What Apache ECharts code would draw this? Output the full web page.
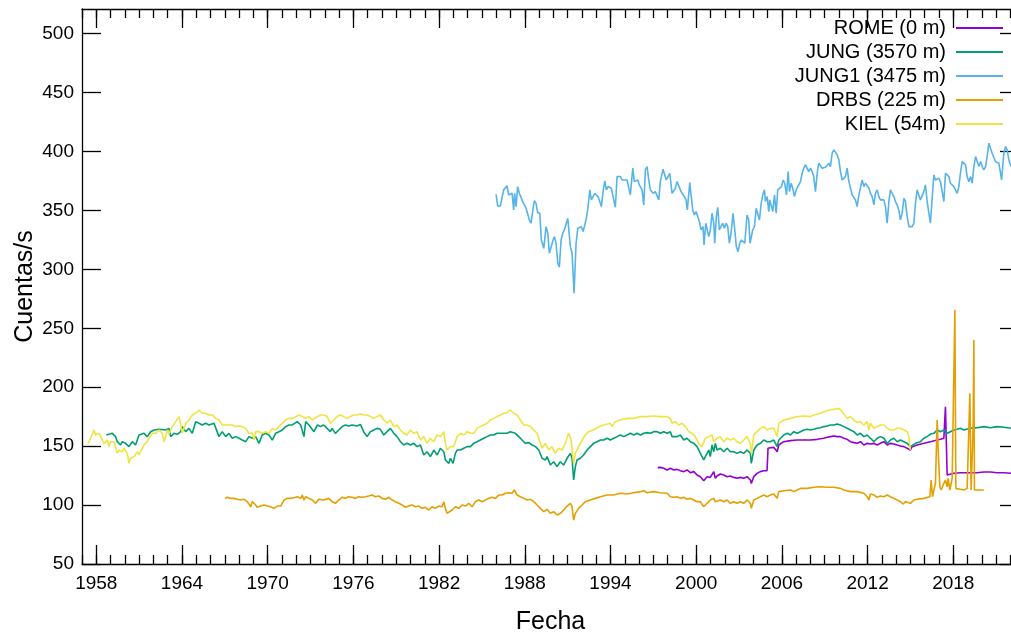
<!DOCTYPE html>
<html><head><meta charset="utf-8">
<script src="https://cdn.jsdelivr.net/npm/echarts@6/dist/echarts.min.js"></script>
<style>html,body{margin:0;padding:0;background:#fff}#c{width:1011px;height:633px}</style>
</head><body><div id="c"></div>
<script>
// ---- data: [decimal year, counts/s] ----
const ROME = [[1997.31,131.8],[1997.49,132.0],[1997.73,131.2],[1997.96,129.8],[1998.19,131.2],[1998.43,129.8],[1998.66,130.3],[1998.89,129.2],[1999.13,128.4],[1999.36,129.8],[1999.59,127.5],[1999.83,128.4],[2000.06,125.5],[2000.29,124.1],[2000.53,120.7],[2000.76,124.1],[2000.99,123.5],[2001.23,128.4],[2001.34,122.7],[2001.46,124.7],[2001.69,126.4],[2001.93,125.5],[2002.16,124.1],[2002.39,124.7],[2002.63,123.5],[2002.86,122.7],[2003.09,123.5],[2003.33,122.7],[2003.56,124.1],[2003.79,121.3],[2003.86,118.4],[2004.03,124.1],[2004.26,126.9],[2004.49,128.4],[2004.73,129.2],[2004.96,129.2],[2005.03,148.2],[2005.19,148.7],[2005.43,149.0],[2005.67,145.3],[2005.78,151.0],[2006.13,153.8],[2006.60,154.7],[2007.07,155.2],[2007.53,155.2],[2008.00,155.2],[2008.47,155.8],[2008.93,156.7],[2009.17,157.5],[2009.40,158.1],[2009.64,158.6],[2009.87,158.1],[2010.10,158.1],[2010.34,156.7],[2010.57,155.8],[2010.80,153.8],[2011.04,153.0],[2011.27,152.4],[2011.50,153.8],[2011.74,151.0],[2011.97,152.4],[2012.20,151.9],[2012.44,152.4],[2012.67,151.0],[2012.90,152.4],[2013.14,153.8],[2013.37,151.0],[2013.60,152.4],[2013.84,151.9],[2014.07,151.0],[2014.30,150.2],[2014.54,149.6],[2014.77,148.2],[2015.00,146.8],[2015.12,149.6],[2015.47,151.0],[2015.94,152.4],[2016.40,153.8],[2016.87,155.2],[2017.10,155.8],[2017.34,156.7],[2017.45,183.5],[2017.52,183.5],[2017.57,125.5],[2018.04,127.0],[2018.50,127.5],[2019.20,127.5],[2019.67,127.5],[2020.14,128.1],[2020.60,128.1],[2021.07,127.5],[2021.54,127.5],[2022.08,127.0]];

const JUNG = [[1958.70,159.5],[1959.12,160.9],[1959.24,162.3],[1959.35,158.1],[1959.47,153.8],[1959.59,155.2],[1959.70,151.0],[1959.82,153.8],[1960.05,152.4],[1960.29,149.6],[1960.52,153.8],[1960.75,151.0],[1960.99,159.5],[1961.11,158.1],[1961.34,160.9],[1961.57,158.1],[1961.81,162.3],[1962.04,163.7],[1962.39,164.3],[1962.86,163.7],[1963.09,165.1],[1963.21,158.1],[1963.44,160.9],[1963.67,160.1],[1963.91,162.3],[1964.02,166.6],[1964.26,162.3],[1964.49,165.1],[1964.72,160.9],[1964.96,170.8],[1965.19,169.4],[1965.42,168.0],[1965.66,169.4],[1965.89,168.0],[1966.24,169.4],[1966.36,169.4],[1966.59,158.1],[1966.82,162.3],[1967.06,158.1],[1967.29,160.9],[1967.52,156.7],[1967.76,158.1],[1967.99,156.7],[1968.22,155.2],[1968.46,153.8],[1968.69,158.1],[1968.92,156.7],[1969.16,158.1],[1969.39,152.4],[1969.62,159.5],[1969.86,160.9],[1970.09,159.5],[1970.32,155.2],[1970.56,160.9],[1970.79,162.3],[1971.02,163.7],[1971.26,166.6],[1971.49,168.0],[1971.72,168.0],[1972.07,170.8],[1972.31,168.0],[1972.54,158.1],[1972.66,170.8],[1972.89,168.0],[1973.24,162.3],[1973.48,168.0],[1973.69,166.6],[1973.92,168.0],[1974.16,165.1],[1974.39,162.3],[1974.51,165.1],[1974.74,160.9],[1974.97,163.7],[1975.21,166.6],[1975.44,168.0],[1975.67,167.1],[1975.91,168.0],[1976.26,167.1],[1976.49,168.5],[1976.72,162.3],[1976.96,158.1],[1977.19,162.3],[1977.43,163.7],[1977.66,165.1],[1977.89,164.3],[1978.13,159.5],[1978.36,162.3],[1978.59,165.1],[1978.83,160.9],[1979.06,158.1],[1979.29,153.8],[1979.53,151.0],[1979.76,152.4],[1979.99,151.0],[1980.23,152.4],[1980.46,149.6],[1980.69,151.0],[1980.93,142.5],[1981.16,145.3],[1981.39,141.1],[1981.63,146.7],[1981.86,142.5],[1982.09,148.2],[1982.33,145.3],[1982.44,138.3],[1982.56,136.8],[1982.68,135.4],[1982.79,139.7],[1982.98,135.4],[1983.14,143.9],[1983.26,146.7],[1983.49,146.7],[1983.73,148.2],[1983.96,149.6],[1984.19,149.6],[1984.43,152.4],[1984.66,153.8],[1984.89,155.2],[1985.13,156.7],[1985.36,158.1],[1985.59,159.5],[1985.83,159.5],[1986.06,160.9],[1986.29,160.9],[1986.53,160.9],[1986.76,160.9],[1986.99,162.3],[1987.11,163.7],[1987.34,160.9],[1987.58,158.1],[1987.81,155.2],[1988.04,152.4],[1988.28,153.0],[1988.51,151.0],[1988.75,149.6],[1988.98,146.7],[1989.21,139.7],[1989.45,138.3],[1989.56,141.1],[1989.79,134.0],[1990.02,136.8],[1990.26,132.6],[1990.49,136.8],[1990.72,134.0],[1990.96,139.7],[1991.19,143.9],[1991.31,139.7],[1991.42,121.3],[1991.54,132.6],[1991.66,138.3],[1991.89,139.7],[1992.12,142.5],[1992.36,146.7],[1992.59,149.6],[1992.82,152.4],[1993.06,153.8],[1993.29,155.2],[1993.53,155.2],[1993.76,156.7],[1993.99,155.2],[1994.23,156.7],[1994.46,158.1],[1994.69,159.5],[1994.93,158.1],[1995.16,159.5],[1995.39,160.9],[1995.63,159.5],[1995.86,160.9],[1996.09,159.5],[1996.33,160.9],[1996.56,161.5],[1996.79,160.9],[1997.03,162.3],[1997.26,162.3],[1997.49,160.9],[1997.73,162.3],[1997.96,160.9],[1998.19,162.3],[1998.31,158.1],[1998.43,159.5],[1998.66,158.1],[1998.89,159.5],[1999.13,155.2],[1999.36,156.7],[1999.59,153.8],[1999.83,152.4],[2000.06,149.6],[2000.29,143.9],[2000.53,138.3],[2000.64,141.1],[2000.76,143.9],[2000.88,146.7],[2000.99,141.1],[2001.11,151.0],[2001.23,145.3],[2001.34,152.4],[2001.46,146.7],[2001.69,148.2],[2001.93,145.3],[2002.16,148.2],[2002.39,145.3],[2002.63,145.3],[2002.86,143.9],[2003.09,145.3],[2003.33,143.9],[2003.56,146.7],[2003.79,143.9],[2003.86,135.4],[2004.03,146.7],[2004.26,151.0],[2004.49,152.4],[2004.73,155.2],[2004.96,153.8],[2005.19,153.8],[2005.43,155.2],[2005.67,149.6],[2005.78,155.2],[2006.13,159.5],[2006.37,160.9],[2006.60,159.5],[2006.83,162.3],[2007.07,160.9],[2007.30,162.3],[2007.53,163.7],[2007.77,164.3],[2008.00,163.7],[2008.23,164.3],[2008.47,165.2],[2008.70,165.7],[2008.93,166.6],[2009.17,167.1],[2009.40,168.0],[2009.64,168.0],[2009.87,168.8],[2010.10,168.0],[2010.34,166.6],[2010.57,165.2],[2010.80,163.7],[2011.04,162.3],[2011.27,159.5],[2011.50,160.9],[2011.74,158.1],[2011.97,159.5],[2012.20,156.7],[2012.44,153.8],[2012.67,156.7],[2012.90,158.1],[2013.14,156.7],[2013.37,152.4],[2013.60,155.2],[2013.84,156.7],[2014.07,153.8],[2014.30,155.2],[2014.54,153.8],[2014.77,152.4],[2015.00,149.6],[2015.12,151.0],[2015.35,152.4],[2015.70,153.8],[2015.94,156.7],[2016.17,158.1],[2016.40,160.3],[2016.64,160.9],[2016.87,163.7],[2017.10,162.3],[2017.34,163.7],[2017.57,160.9],[2017.80,162.3],[2018.04,163.7],[2018.27,164.3],[2018.50,165.2],[2018.74,163.7],[2019.20,165.2],[2019.67,165.7],[2020.14,166.6],[2020.60,165.7],[2021.07,166.6],[2021.54,166.0],[2022.08,165.2]];

const JUNG1 = [[1985.99,363.8],[1986.10,353.9],[1986.29,353.9],[1986.41,354.7],[1986.52,367.5],[1986.64,368.9],[1986.76,370.9],[1986.87,363.2],[1986.99,364.6],[1987.11,364.6],[1987.22,350.5],[1987.29,364.6],[1987.39,353.3],[1987.50,370.3],[1987.62,364.6],[1987.74,366.0],[1987.85,357.6],[1987.97,356.1],[1988.09,351.9],[1988.20,353.3],[1988.32,342.0],[1988.44,339.2],[1988.55,349.1],[1988.67,358.4],[1988.79,356.1],[1988.90,348.2],[1989.05,347.7],[1989.16,325.0],[1989.33,317.9],[1989.49,336.3],[1989.61,330.7],[1989.72,313.7],[1989.86,312.3],[1989.98,325.0],[1990.07,327.8],[1990.19,322.2],[1990.31,305.2],[1990.42,301.8],[1990.54,325.0],[1990.66,330.7],[1990.77,333.5],[1990.89,332.1],[1991.01,343.4],[1991.12,344.8],[1991.19,319.3],[1991.31,313.7],[1991.45,279.7],[1991.59,322.2],[1991.71,334.9],[1991.85,335.8],[1991.96,336.3],[1992.08,332.1],[1992.20,337.7],[1992.31,343.4],[1992.43,353.3],[1992.55,367.5],[1992.66,359.0],[1992.78,357.6],[1992.90,364.6],[1993.01,366.0],[1993.13,361.8],[1993.25,361.8],[1993.36,353.3],[1993.48,366.0],[1993.60,375.1],[1993.71,367.5],[1993.83,370.3],[1993.95,368.9],[1994.06,368.9],[1994.18,361.8],[1994.34,352.7],[1994.46,378.8],[1994.69,378.8],[1994.81,375.9],[1994.93,377.4],[1995.16,375.9],[1995.39,363.2],[1995.56,385.9],[1995.67,374.5],[1995.79,375.9],[1995.91,375.9],[1996.02,371.7],[1996.21,367.5],[1996.33,354.7],[1996.44,384.4],[1996.56,387.3],[1996.68,375.9],[1996.79,367.5],[1996.98,364.6],[1997.14,366.0],[1997.26,364.6],[1997.38,359.0],[1997.49,374.5],[1997.68,385.0],[1997.80,380.2],[1997.91,375.9],[1998.03,378.8],[1998.15,381.6],[1998.31,364.6],[1998.43,364.1],[1998.54,368.9],[1998.66,374.5],[1998.78,374.5],[1998.89,367.5],[1999.01,364.6],[1999.17,361.8],[1999.29,359.0],[1999.38,350.5],[1999.55,373.7],[1999.64,363.2],[1999.76,350.5],[1999.87,346.2],[1999.99,349.1],[2000.11,344.8],[2000.22,340.6],[2000.34,333.5],[2000.48,336.3],[2000.55,320.8],[2000.67,339.2],[2000.76,340.6],[2000.88,327.8],[2000.99,333.5],[2001.11,347.7],[2001.23,339.2],[2001.30,322.2],[2001.41,344.8],[2001.51,352.7],[2001.62,333.5],[2001.74,333.5],[2001.86,339.2],[2001.97,334.9],[2002.09,339.2],[2002.21,336.3],[2002.32,322.2],[2002.44,330.7],[2002.58,347.7],[2002.70,333.5],[2002.81,319.4],[2002.93,315.1],[2003.05,322.2],[2003.17,325.0],[2003.28,325.0],[2003.40,322.2],[2003.56,346.2],[2003.68,342.0],[2003.77,322.2],[2003.96,333.5],[2004.08,336.3],[2004.20,351.9],[2004.31,350.5],[2004.43,342.0],[2004.55,356.1],[2004.66,363.2],[2004.78,367.5],[2004.85,357.6],[2004.97,361.8],[2005.08,349.1],[2005.15,359.0],[2005.27,357.6],[2005.36,349.1],[2005.48,363.2],[2005.60,347.7],[2005.71,367.5],[2005.85,368.9],[2005.97,370.3],[2006.09,375.9],[2006.20,373.1],[2006.32,363.2],[2006.44,383.0],[2006.53,366.0],[2006.65,373.1],[2006.76,368.9],[2006.88,361.8],[2007.00,367.5],[2007.11,370.3],[2007.30,374.5],[2007.42,381.6],[2007.53,385.9],[2007.65,388.7],[2007.77,388.7],[2007.88,383.0],[2008.00,385.9],[2008.12,383.0],[2008.23,378.8],[2008.35,366.0],[2008.47,381.6],[2008.58,390.1],[2008.70,390.1],[2008.82,385.9],[2008.94,385.9],[2009.05,386.7],[2009.17,386.7],[2009.29,390.1],[2009.40,387.3],[2009.52,398.6],[2009.64,401.4],[2009.75,400.0],[2009.87,397.2],[2009.99,392.9],[2010.10,383.0],[2010.22,375.9],[2010.34,374.5],[2010.45,378.8],[2010.57,385.9],[2010.69,374.5],[2010.80,373.1],[2010.92,363.2],[2011.04,364.6],[2011.15,359.0],[2011.27,353.3],[2011.39,363.2],[2011.50,361.8],[2011.62,375.9],[2011.74,370.3],[2011.85,373.1],[2011.97,371.7],[2012.09,368.9],[2012.20,364.6],[2012.32,361.8],[2012.44,354.7],[2012.55,364.6],[2012.67,367.5],[2012.79,361.8],[2012.90,359.0],[2013.02,357.6],[2013.14,359.0],[2013.25,353.3],[2013.37,339.2],[2013.49,357.6],[2013.60,367.5],[2013.72,364.6],[2013.84,361.8],[2013.95,357.6],[2014.07,354.7],[2014.19,350.5],[2014.30,342.0],[2014.42,347.7],[2014.54,360.4],[2014.65,357.6],[2014.77,344.8],[2014.89,336.3],[2015.00,337.7],[2015.12,336.3],[2015.24,339.2],[2015.35,356.1],[2015.47,367.5],[2015.59,368.9],[2015.70,359.0],[2015.82,357.6],[2015.94,366.0],[2016.05,371.7],[2016.17,357.6],[2016.29,347.7],[2016.40,339.2],[2016.52,360.4],[2016.64,380.2],[2016.75,375.9],[2016.87,375.9],[2016.99,377.4],[2017.10,374.5],[2017.22,375.9],[2017.34,357.6],[2017.45,381.6],[2017.57,382.2],[2017.69,378.8],[2017.80,373.1],[2017.92,373.1],[2018.04,370.3],[2018.15,371.7],[2018.27,364.6],[2018.39,370.3],[2018.50,381.6],[2018.62,391.5],[2018.74,391.5],[2018.86,388.7],[2018.97,378.8],[2019.09,374.5],[2019.21,378.8],[2019.32,373.1],[2019.44,387.3],[2019.56,395.8],[2019.67,397.2],[2019.79,387.3],[2019.91,391.5],[2020.02,387.3],[2020.14,384.4],[2020.26,387.3],[2020.37,395.8],[2020.49,407.1],[2020.61,407.1],[2020.72,398.6],[2020.84,398.6],[2020.96,391.5],[2021.07,391.5],[2021.19,390.1],[2021.31,391.5],[2021.38,376.0],[2021.54,398.6],[2021.66,404.3],[2021.77,401.4],[2021.89,392.9],[2022.01,391.5],[2022.05,387.3]];

const DRBS = [[1967.01,105.7],[1967.17,106.6],[1967.41,105.7],[1967.64,105.7],[1967.87,104.9],[1968.11,104.3],[1968.34,104.9],[1968.57,102.9],[1968.69,100.9],[1968.81,98.6],[1968.92,102.9],[1969.04,101.5],[1969.16,100.1],[1969.27,98.1],[1969.51,99.2],[1969.74,100.1],[1969.97,99.2],[1970.21,98.6],[1970.44,97.2],[1970.67,99.2],[1970.91,99.2],[1971.14,104.3],[1971.37,105.7],[1971.61,105.7],[1971.84,106.3],[1972.07,107.1],[1972.31,105.7],[1972.42,108.5],[1972.54,104.3],[1972.66,107.1],[1972.89,105.7],[1973.12,104.3],[1973.36,101.5],[1973.48,102.9],[1973.57,104.9],[1973.92,104.3],[1974.27,105.7],[1974.51,102.9],[1974.74,101.5],[1974.97,104.3],[1975.21,106.6],[1975.44,105.7],[1975.67,107.1],[1975.91,106.6],[1976.14,105.7],[1976.37,107.1],[1976.61,106.6],[1976.84,107.1],[1977.08,107.7],[1977.31,108.5],[1977.54,107.1],[1977.78,107.7],[1978.01,105.7],[1978.24,104.9],[1978.48,106.6],[1978.71,104.3],[1978.94,102.9],[1979.18,101.5],[1979.41,100.1],[1979.64,98.1],[1979.88,99.2],[1980.11,100.1],[1980.34,98.6],[1980.58,99.2],[1980.81,97.2],[1981.04,98.1],[1981.28,95.8],[1981.51,98.6],[1981.74,97.2],[1981.98,99.2],[1982.21,98.6],[1982.33,102.9],[1982.44,97.2],[1982.56,93.0],[1982.68,93.0],[1982.91,95.8],[1983.14,98.6],[1983.38,97.2],[1983.61,100.1],[1983.84,99.2],[1984.08,101.5],[1984.31,98.6],[1984.54,102.9],[1984.78,104.3],[1985.01,102.9],[1985.24,104.3],[1985.48,105.7],[1985.71,106.6],[1985.94,105.7],[1986.18,108.5],[1986.41,108.5],[1986.64,110.0],[1986.88,110.5],[1987.11,110.0],[1987.27,112.8],[1987.46,108.5],[1987.69,107.1],[1987.93,105.7],[1988.16,104.3],[1988.39,104.9],[1988.63,102.9],[1988.86,100.1],[1989.09,97.2],[1989.33,94.4],[1989.56,96.4],[1989.79,93.0],[1990.02,94.4],[1990.26,91.6],[1990.49,93.0],[1990.72,95.8],[1990.96,99.2],[1991.19,101.5],[1991.31,98.6],[1991.42,87.3],[1991.54,93.0],[1991.77,97.2],[1992.01,100.1],[1992.24,102.9],[1992.59,104.3],[1992.94,105.7],[1993.29,107.1],[1993.76,108.5],[1994.23,108.5],[1994.69,110.0],[1995.16,109.4],[1995.63,110.5],[1996.09,111.4],[1996.33,112.2],[1996.56,110.5],[1997.03,111.4],[1997.49,110.5],[1997.96,110.0],[1998.19,107.1],[1998.43,106.6],[1998.66,107.1],[1998.89,105.7],[1999.13,106.6],[1999.36,104.9],[1999.59,105.7],[1999.83,104.3],[2000.06,102.9],[2000.29,102.9],[2000.53,98.6],[2000.76,101.5],[2000.99,104.3],[2001.23,105.7],[2001.34,102.9],[2001.46,104.3],[2001.69,104.3],[2001.93,102.9],[2002.16,104.3],[2002.39,101.5],[2002.63,102.9],[2002.86,101.5],[2003.09,102.9],[2003.33,101.5],[2003.56,104.3],[2003.79,101.5],[2003.86,97.2],[2004.03,104.3],[2004.26,105.7],[2004.49,107.1],[2004.73,108.5],[2004.96,107.1],[2005.19,108.5],[2005.43,109.4],[2005.67,105.7],[2005.78,111.4],[2006.13,112.2],[2006.60,112.8],[2006.83,111.4],[2007.07,112.8],[2007.30,114.2],[2007.77,114.2],[2008.23,115.1],[2008.70,115.6],[2009.17,115.1],[2009.64,115.1],[2010.10,114.2],[2010.34,112.8],[2010.80,111.4],[2011.27,111.4],[2011.74,110.0],[2011.97,107.1],[2012.09,104.3],[2012.20,109.4],[2012.44,108.6],[2012.67,106.6],[2012.90,107.7],[2013.14,107.1],[2013.37,108.6],[2013.60,107.1],[2013.84,105.7],[2014.07,104.3],[2014.30,102.9],[2014.49,100.9],[2014.65,102.9],[2014.77,104.3],[2015.00,101.5],[2015.24,104.3],[2015.47,104.9],[2015.94,105.7],[2016.36,107.1],[2016.45,121.3],[2016.54,107.1],[2016.75,118.5],[2016.87,172.2],[2016.96,141.1],[2017.06,115.6],[2017.15,112.8],[2017.34,118.5],[2017.45,121.3],[2017.57,115.6],[2017.64,122.7],[2017.76,112.8],[2017.92,122.7],[2018.04,122.0],[2018.11,265.6],[2018.18,114.0],[2018.27,112.8],[2018.50,113.4],[2018.74,112.8],[2018.97,114.2],[2019.10,113.0],[2019.16,194.9],[2019.25,112.8],[2019.34,146.8],[2019.39,169.4],[2019.44,240.2],[2019.48,112.8],[2019.67,112.8],[2020.14,112.8]];

const KIEL = [[1957.44,152.4],[1957.60,156.7],[1957.72,158.1],[1957.84,163.7],[1957.95,159.5],[1958.07,159.5],[1958.19,160.9],[1958.30,158.1],[1958.42,159.5],[1958.54,152.4],[1958.65,153.8],[1958.77,155.2],[1958.89,149.6],[1959.00,153.8],[1959.12,152.4],[1959.24,153.8],[1959.35,149.6],[1959.47,143.9],[1959.59,146.7],[1959.70,148.2],[1959.82,145.3],[1959.94,148.2],[1960.05,146.7],[1960.17,143.9],[1960.29,135.4],[1960.40,139.7],[1960.52,138.3],[1960.64,141.1],[1960.75,139.7],[1960.87,145.3],[1960.99,142.5],[1961.11,141.1],[1961.22,148.2],[1961.34,151.0],[1961.46,149.6],[1961.57,153.8],[1961.69,156.7],[1961.81,158.1],[1961.92,160.9],[1962.04,162.3],[1962.16,160.9],[1962.27,162.3],[1962.39,163.7],[1962.62,160.9],[1962.74,153.8],[1962.86,158.1],[1962.97,163.7],[1963.09,160.9],[1963.21,163.7],[1963.32,166.6],[1963.56,170.8],[1963.79,175.1],[1963.91,168.0],[1964.02,160.9],[1964.14,165.1],[1964.26,169.4],[1964.49,172.2],[1964.72,176.5],[1964.96,177.9],[1965.19,180.7],[1965.42,177.9],[1965.66,177.9],[1965.89,176.5],[1966.12,176.5],[1966.36,173.6],[1966.59,172.2],[1966.82,168.0],[1967.06,168.0],[1967.29,168.0],[1967.52,168.0],[1967.76,166.6],[1967.99,167.1],[1968.22,166.6],[1968.46,165.1],[1968.69,160.9],[1968.92,160.9],[1969.04,155.2],[1969.16,162.3],[1969.39,162.3],[1969.62,160.9],[1969.86,162.3],[1970.09,160.9],[1970.32,165.1],[1970.56,163.7],[1970.79,166.6],[1971.02,169.4],[1971.26,172.2],[1971.49,173.6],[1971.72,173.6],[1972.19,176.5],[1972.42,175.1],[1972.66,173.6],[1972.89,175.1],[1973.12,172.2],[1973.48,175.1],[1973.69,176.5],[1973.92,176.5],[1974.16,175.1],[1974.39,169.4],[1974.62,172.2],[1974.86,175.1],[1975.09,176.5],[1975.32,175.1],[1975.56,173.6],[1975.79,175.1],[1976.02,176.5],[1976.26,176.5],[1976.49,177.3],[1976.72,176.5],[1976.96,176.5],[1977.19,175.1],[1977.43,173.6],[1977.66,175.1],[1977.89,176.5],[1978.13,172.2],[1978.36,169.4],[1978.59,172.2],[1978.83,166.6],[1979.06,168.0],[1979.29,163.7],[1979.53,160.9],[1979.76,159.5],[1979.99,163.7],[1980.23,160.9],[1980.46,162.3],[1980.69,155.2],[1980.93,158.1],[1981.16,152.4],[1981.39,156.7],[1981.63,153.8],[1981.86,159.5],[1982.09,158.1],[1982.33,162.3],[1982.44,152.4],[1982.56,146.7],[1982.68,145.3],[1982.79,149.6],[1983.03,149.6],[1983.26,158.1],[1983.49,160.9],[1983.73,159.5],[1983.96,162.3],[1984.19,160.9],[1984.43,160.9],[1984.66,165.1],[1984.89,166.6],[1985.13,168.0],[1985.36,169.4],[1985.59,172.2],[1985.83,173.6],[1986.06,175.1],[1986.29,176.5],[1986.53,177.9],[1986.76,178.4],[1986.99,180.7],[1987.11,182.1],[1987.23,177.9],[1987.46,176.5],[1987.69,172.2],[1987.93,168.0],[1988.16,168.0],[1988.39,166.6],[1988.63,163.7],[1988.86,160.9],[1989.09,152.4],[1989.21,148.2],[1989.44,152.4],[1989.67,146.7],[1989.91,149.6],[1990.14,143.9],[1990.37,148.2],[1990.61,146.7],[1990.84,152.4],[1991.07,160.9],[1991.24,155.2],[1991.42,135.4],[1991.54,143.9],[1991.77,149.6],[1992.01,155.2],[1992.24,159.5],[1992.47,162.3],[1992.82,163.7],[1993.18,166.6],[1993.53,168.0],[1993.99,169.4],[1994.11,166.6],[1994.34,170.8],[1994.69,172.2],[1995.16,173.6],[1995.63,173.6],[1996.09,175.1],[1996.56,175.1],[1997.03,175.6],[1997.49,175.1],[1997.96,175.1],[1998.19,173.6],[1998.31,169.4],[1998.54,170.8],[1998.78,168.0],[1999.01,169.4],[1999.24,166.6],[1999.48,162.3],[1999.71,160.9],[1999.94,158.1],[2000.18,152.4],[2000.41,149.6],[2000.64,156.7],[2000.88,158.1],[2001.11,159.5],[2001.23,153.8],[2001.46,156.7],[2001.69,158.1],[2001.93,153.8],[2002.16,156.7],[2002.39,155.2],[2002.63,156.7],[2002.86,153.8],[2003.09,152.4],[2003.33,155.2],[2003.56,158.1],[2003.79,152.4],[2003.86,143.9],[2004.03,159.5],[2004.26,162.3],[2004.49,165.1],[2004.73,166.6],[2004.96,163.7],[2005.19,165.1],[2005.43,165.1],[2005.67,158.1],[2005.78,169.4],[2006.13,172.2],[2006.60,173.6],[2007.07,175.1],[2007.53,175.6],[2008.00,175.1],[2008.23,176.5],[2008.70,177.9],[2009.17,180.2],[2009.64,181.3],[2009.99,182.1],[2010.22,179.3],[2010.57,173.6],[2010.80,175.1],[2011.04,172.2],[2011.27,170.0],[2011.50,170.8],[2011.74,168.0],[2011.97,170.8],[2012.09,163.7],[2012.20,169.4],[2012.44,165.2],[2012.67,166.6],[2012.90,168.0],[2013.14,168.0],[2013.37,165.2],[2013.60,163.7],[2013.84,163.7],[2014.07,165.2],[2014.30,165.2],[2014.54,163.7],[2014.77,162.3],[2014.89,158.1],[2015.00,146.8]];

const SERIES_NAMES = ['ROME (0 m)', 'JUNG (3570 m)', 'JUNG1 (3475 m)', 'DRBS (225 m)', 'KIEL (54m)'];
const SERIES_DATA = [ROME, JUNG, JUNG1, DRBS, KIEL];
const SERIES_COLORS = ['#9400d3', '#009e73', '#56b4e9', '#e69f00', '#f0e442'];

const X_MAJOR = [1958, 1964, 1970, 1976, 1982, 1988, 1994, 2000, 2006, 2012, 2018];
const X_MINOR = [];
for (let y = 1957; y <= 2022; y++) X_MINOR.push(y);
const Y_TICKS = [50, 100, 150, 200, 250, 300, 350, 400, 450, 500];

const X_MIN = 1957, X_MAX = 2022.6, Y_MIN = 50, Y_MAX = 521;
const FONT = '"Liberation Sans", Arial, Helvetica, sans-serif';
const AX = { color: '#000', width: 1.3 };

function xAxisDef(pos, major, showLine, showLabel) {
  return {
    type: 'value', min: X_MIN, max: X_MAX, position: pos,
    splitLine: { show: false },
    axisLine: { show: showLine, onZero: false, lineStyle: AX },
    axisTick: { show: true, inside: true, length: major ? 19 : 9,
      customValues: major ? X_MAJOR : X_MINOR, lineStyle: AX },
    axisLabel: { show: showLabel, customValues: X_MAJOR, fontSize: 19, color: '#000',
      fontFamily: FONT, margin: 10, formatter: v => String(v) }
  };
}
function yAxisDef(pos, showLabel) {
  return {
    type: 'value', min: Y_MIN, max: Y_MAX, interval: 50, position: pos,
    splitLine: { show: false },
    axisLine: { show: pos === 'left', onZero: false, lineStyle: AX },
    axisTick: { show: true, inside: true, length: 19, customValues: Y_TICKS, lineStyle: AX },
    axisLabel: { show: showLabel, customValues: Y_TICKS, fontSize: 19, color: '#000',
      fontFamily: FONT, margin: 8 }
  };
}

const xAxes = [
  xAxisDef('bottom', true, true, true),
  xAxisDef('bottom', false, false, false),
  xAxisDef('top', true, true, false),
  xAxisDef('top', false, false, false)
];
Object.assign(xAxes[0], { name: 'Fecha', nameLocation: 'middle', nameGap: 46, nameMoveOverlap: false,
  nameTextStyle: { fontSize: 25, color: '#000', fontFamily: FONT } });
const yAxes = [yAxisDef('left', true), yAxisDef('right', false)];
Object.assign(yAxes[0], { name: 'Cuentas/s', nameLocation: 'middle', nameGap: 44, nameMoveOverlap: false,
  nameTextStyle: { fontSize: 25, color: '#000', fontFamily: FONT } });

const chart = echarts.init(document.getElementById('c'), null, { renderer: 'canvas' });
chart.setOption({
  animation: false,
  backgroundColor: '#fff',
  grid: { left: 82, width: 937, top: 9, height: 555, containLabel: false, outerBoundsMode: 'none' },
  xAxis: xAxes,
  yAxis: yAxes,
  legend: {
    orient: 'vertical', right: 8, top: 18, align: 'right', padding: 0,
    icon: 'rect', itemWidth: 47, itemHeight: 2, itemGap: 4,
    data: SERIES_NAMES,
    textStyle: { fontSize: 20, color: '#000', fontFamily: FONT, padding: [0, 5, 0, 0] }
  },
  series: SERIES_NAMES.map((n, i) => ({
    name: n, type: 'line', data: SERIES_DATA[i], xAxisIndex: 0, yAxisIndex: 0,
    showSymbol: false, symbol: 'none', color: SERIES_COLORS[i],
    lineStyle: { width: 1.6, color: SERIES_COLORS[i] }, clip: true
  }))
});
</script></body></html>
